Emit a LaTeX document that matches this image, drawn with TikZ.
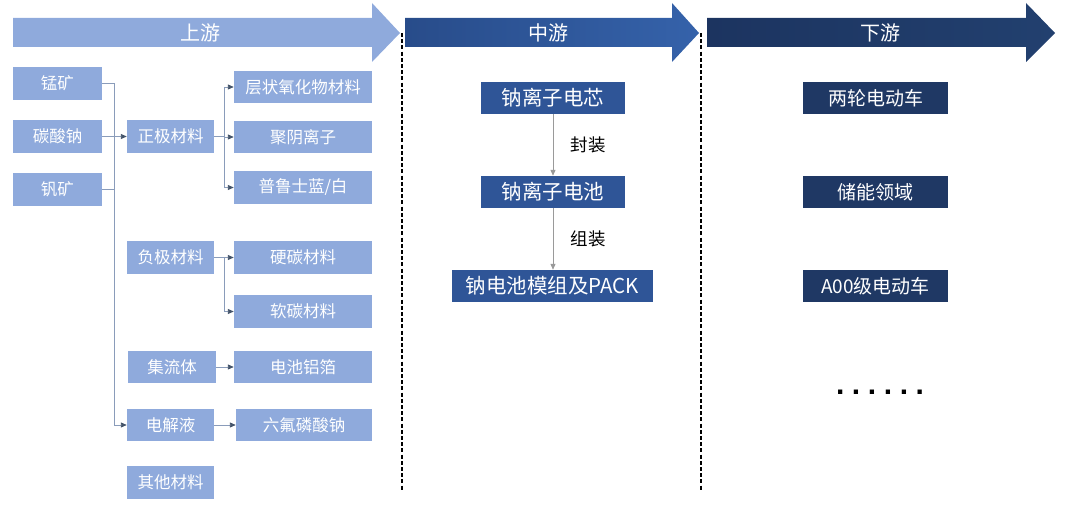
\documentclass[tikz,border=0pt]{standalone}
\usepackage{fontspec}
\setmainfont{Noto Sans CJK SC}
\newfontfamily\dotfont{Liberation Sans}
\usetikzlibrary{arrows.meta,calc}
\definecolor{lightb}{HTML}{8FAADC}
\definecolor{midbL}{HTML}{284C8A}
\definecolor{midbR}{HTML}{3562AA}
\definecolor{darkbL}{HTML}{1C3460}
\definecolor{darkbR}{HTML}{22406F}
\definecolor{midbox}{HTML}{2F5597}
\definecolor{darkbox}{HTML}{1F3864}
\definecolor{connc}{HTML}{8A9CBA}
\definecolor{headc}{HTML}{44546A}
\definecolor{grayarr}{HTML}{9A9A9A}
\tikzset{
  lbox/.style={fill=lightb, draw=none, inner sep=0pt, text=white, minimum height=32.5pt,
    font=\fontsize{16.5}{18}\selectfont},
  mbox/.style={fill=midbox, draw=none, inner sep=0pt, text=white, minimum height=32pt,
    minimum width=144pt, font=\fontsize{20.5}{22}\selectfont},
  dbox/.style={fill=darkbox, draw=none, inner sep=0pt, text=white, minimum height=32pt,
    minimum width=145pt, font=\fontsize{19}{21}\selectfont},
  conn/.style={draw=connc, line width=0.9pt},
  connarr/.style={conn, -{Triangle[length=6pt,width=5pt,fill=headc,color=headc]}},
  grayarrow/.style={draw=grayarr, line width=1pt, -{Triangle[length=6pt,width=5pt]}},
  steplabel/.style={font=\fontsize{17.5}{19}\selectfont, text=black, inner sep=0pt},
  bandtext/.style={font=\fontsize{20}{22}\selectfont, text=white, inner sep=0pt},
  sepline/.style={draw=black, line width=2.2pt, dash pattern=on 4pt off 2.2pt}
}
\begin{document}
\begin{tikzpicture}[x=1pt,y=-1pt]
\useasboundingbox (0,0) rectangle (1080,511);
% top arrows
\fill[lightb] (13,18) -- (372,18) -- (372,3) -- (400,33) -- (372,62) -- (372,47) -- (13,47) -- cycle;
\shade[left color=midbL, right color=midbR] (405,18) -- (672,18) -- (672,3) -- (699,33) -- (672,62) -- (672,47) -- (405,47) -- cycle;
\shade[left color=darkbL, right color=darkbR] (707,18) -- (1026,18) -- (1026,3) -- (1055,33) -- (1026,62) -- (1026,47) -- (707,47) -- cycle;
\node[bandtext] (up) at (200,33) {上游};
\node[bandtext] (mid) at (548,33) {中游};
\node[bandtext] (down) at (880,33) {下游};
% separators
\coordinate (s1a) at (402,33); \coordinate (s1b) at (402,490);
\coordinate (s2a) at (701,33); \coordinate (s2b) at (701,490);
\draw[sepline] (s1a) -- (s1b);
\draw[sepline] (s2a) -- (s2b);
% upstream boxes
\node[lbox, minimum width=89pt] (mn) at (57.5,83.5) {锰矿};
\node[lbox, minimum width=89pt] (na) at (57.5,136.5) {碳酸钠};
\node[lbox, minimum width=89pt] (vn) at (57.5,189.5) {钒矿};
\node[lbox, minimum width=87pt] (zj) at (170.5,136.5) {正极材料};
\node[lbox, minimum width=138pt] (c1) at (303,87) {层状氧化物材料};
\node[lbox, minimum width=138pt] (c2) at (303,137) {聚阴离子};
\node[lbox, minimum width=138pt] (c3) at (303,187.5) {普鲁士蓝/白};
\node[lbox, minimum width=87pt] (fj) at (170.5,257.5) {负极材料};
\node[lbox, minimum width=138pt] (a1) at (303,257.5) {硬碳材料};
\node[lbox, minimum width=138pt] (a2) at (303,311.5) {软碳材料};
\node[lbox, minimum width=88pt] (jl) at (172,367) {集流体};
\node[lbox, minimum width=138pt] (al) at (303,367) {电池铝箔};
\node[lbox, minimum width=87pt] (dj) at (170.5,425) {电解液};
\node[lbox, minimum width=136pt] (lf) at (304,425) {六氟磷酸钠};
\node[lbox, minimum width=87pt] (qt) at (170.5,482.5) {其他材料};
% upstream connectors
\coordinate (trunk) at (114,0);
\coordinate (br) at (224,0);
\draw[conn] (mn.east) -- (mn.east -| trunk) -- (dj.west -| trunk);
\draw[conn] (na.east) -- (na.east -| trunk);
\draw[conn] (vn.east) -- (vn.east -| trunk);
\draw[connarr] (na.east -| trunk) -- (zj.west);
\draw[connarr] (dj.west -| trunk) -- (dj.west);
\draw[conn] (zj.east) -- (zj.east -| br);
\draw[conn] (c1.west -| br) -- (c3.west -| br);
\draw[connarr] (c1.west -| br) -- (c1.west);
\draw[connarr] (c2.west -| br) -- (c2.west);
\draw[connarr] (c3.west -| br) -- (c3.west);
\draw[connarr] (fj.east) -- (a1.west);
\draw[conn] (a1.west -| br) -- (a2.west -| br);
\draw[connarr] (a2.west -| br) -- (a2.west);
\draw[connarr] (jl.east) -- (al.west);
\draw[connarr] (dj.east) -- (lf.west);
% midstream
\node[mbox] (m1) at (553,98) {钠离子电芯};
\node[mbox] (m2) at (553,192) {钠离子电池};
\node[mbox, minimum width=201pt] (m3) at (552.5,286) {钠电池模组及PACK};
\draw[grayarrow] (m1.south) -- node[steplabel, right, xshift=17pt] (l1) {封装} (m2.north);
\draw[grayarrow] (m2.south) -- node[steplabel, right, xshift=17pt] (l2) {组装} (m2.south |- m3.north);
% downstream
\node[dbox] (d1) at (875.5,98) {两轮电动车};
\node[dbox] (d2) at (875.5,192) {储能领域};
\node[dbox] (d3) at (875.5,286) {A00级电动车};
\node[inner sep=0pt, font=\dotfont\fontsize{30}{32}\selectfont\bfseries] (dots) at (880,392)
  {.\hspace{7.6pt}.\hspace{7.6pt}.\hspace{7.6pt}.\hspace{7.6pt}.\hspace{7.6pt}.};
\end{tikzpicture}
\end{document}
